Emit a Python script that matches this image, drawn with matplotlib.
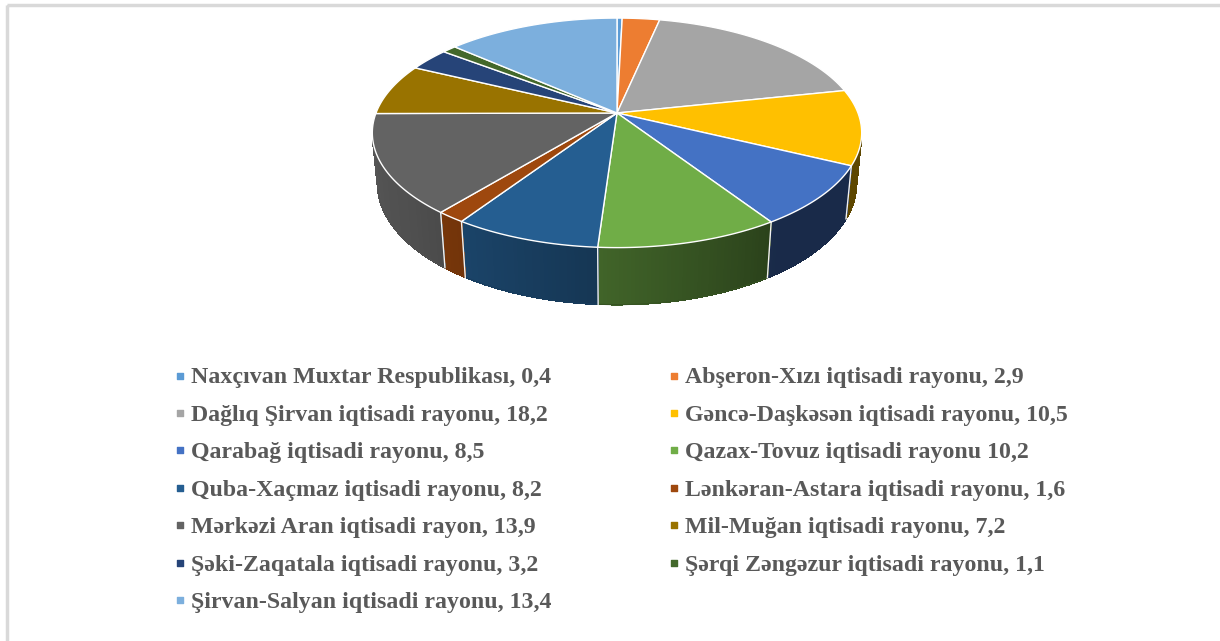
import numpy as np
import matplotlib.pyplot as plt
from matplotlib.patches import Polygon, Rectangle
from matplotlib.colors import to_rgb

# data
labels = ['Naxçıvan Muxtar Respublikası, 0,4',
          'Abşeron-Xızı iqtisadi rayonu, 2,9',
          'Dağlıq Şirvan iqtisadi rayonu, 18,2',
          'Gəncə-Daşkəsən iqtisadi rayonu, 10,5',
          'Qarabağ iqtisadi rayonu, 8,5',
          'Qazax-Tovuz iqtisadi rayonu 10,2',
          'Quba-Xaçmaz iqtisadi rayonu, 8,2',
          'Lənkəran-Astara iqtisadi rayonu, 1,6',
          'Mərkəzi Aran iqtisadi rayon, 13,9',
          'Mil-Muğan iqtisadi rayonu, 7,2',
          'Şəki-Zaqatala iqtisadi rayonu, 3,2',
          'Şərqi Zəngəzur iqtisadi rayonu, 1,1',
          'Şirvan-Salyan iqtisadi rayonu, 13,4']
values = [0.4, 2.9, 18.2, 10.5, 8.5, 10.2, 8.2, 1.6, 13.9, 7.2, 3.2, 1.1, 13.4]
colors = ['#5B9BD5', '#ED7D31', '#A5A5A5', '#FFC000', '#4472C4', '#70AD47',
          '#255E91', '#9E480E', '#636363', '#997300', '#264478', '#43682B',
          '#7CAFDD']

fig = plt.figure(figsize=(12.2, 6.41), dpi=100)
ax = fig.add_axes([0, 0, 1, 1])
ax.set_xlim(0, 1220)
ax.set_ylim(641, 0)
ax.axis('off')

# chart area border (right/bottom edges fall outside the picture)
ax.add_patch(Rectangle((7, 5), 1300, 700, fill=False, ec='#d9d9d9', lw=2.5))

# 3d pie geometry (perspective view)
cx, cy, s = 617, 113, 241
sphi = 0.462
cphi = np.sqrt(1 - sphi ** 2)
D = 5.13
h = 0.24


def proj(theta, z):
    t = np.radians(theta)
    X, Y = np.sin(t), np.cos(t)
    depth = D + Y * cphi - z * sphi
    v = Y * sphi + z * cphi
    return cx + s * X * D / depth, cy - s * v * D / depth


# side visible where outward normal faces the camera
lim = np.degrees(np.arccos(-1 / (D * cphi)))
vis0, vis1 = lim, 360 - lim


def shade(theta):
    return np.interp(theta, [100, 145, 184, 213, 230, 260],
                     [0.37, 0.37, 0.58, 0.72, 0.80, 0.86])


vals = np.array(values)
bounds = np.concatenate([[0], np.cumsum(vals) / vals.sum() * 360])

# sides
for i, c in enumerate(colors):
    a0, a1 = max(bounds[i], vis0), min(bounds[i + 1], vis1)
    if a1 <= a0:
        continue
    n = max(2, int((a1 - a0) / 0.8))
    th = np.linspace(a0, a1, n + 1)
    rgb = np.array(to_rgb(c))
    for t0, t1 in zip(th[:-1], th[1:]):
        x0, y0 = proj(t0, 0)
        x1, y1 = proj(t1, 0)
        x2, y2 = proj(t1, -h)
        x3, y3 = proj(t0, -h)
        col = rgb * shade((t0 + t1) / 2)
        ax.add_patch(Polygon([(x0, y0), (x1, y1), (x2, y2), (x3, y3)],
                             closed=True, fc=col, ec=col, lw=0.6,
                             antialiased=False, zorder=1))
    # smooth outline of the lower rim
    bot = [proj(t, -h) for t in th]
    xs, ys = zip(*bot)
    ax.plot(xs, ys, color=rgb * shade((a0 + a1) / 2), lw=0.8, zorder=1.5)

# white edges on the side at slice boundaries
for b in bounds:
    if vis0 < b < vis1:
        xa, ya = proj(b, 0)
        xb, yb = proj(b, -h)
        ax.plot([xa, xb], [ya, yb], color='#f2f2f2', lw=1.0, zorder=2)

# top face
for i, c in enumerate(colors):
    th = np.linspace(bounds[i], bounds[i + 1], max(3, int(bounds[i + 1] - bounds[i]) * 2))
    pts = [(cx, cy)] + [proj(t, 0) for t in th]
    ax.add_patch(Polygon(pts, closed=True, fc=c, ec='white', lw=1.0, zorder=3))

# legend, filled row by row in two columns
row0, step = 383.5, 37.4
for i, (lab, c) in enumerate(zip(labels, colors)):
    col, row = i % 2, i // 2
    xm = 180 if col == 0 else 674
    yb = row0 + row * step
    ax.scatter([xm], [yb - 8], marker='s', s=22, color=c, zorder=4)
    ax.text(xm + 11, yb, lab, fontsize=17.2, fontweight='bold',
            family='Liberation Serif', color='#595959', va='baseline', ha='left')

plt.savefig('out.png', dpi=100)
